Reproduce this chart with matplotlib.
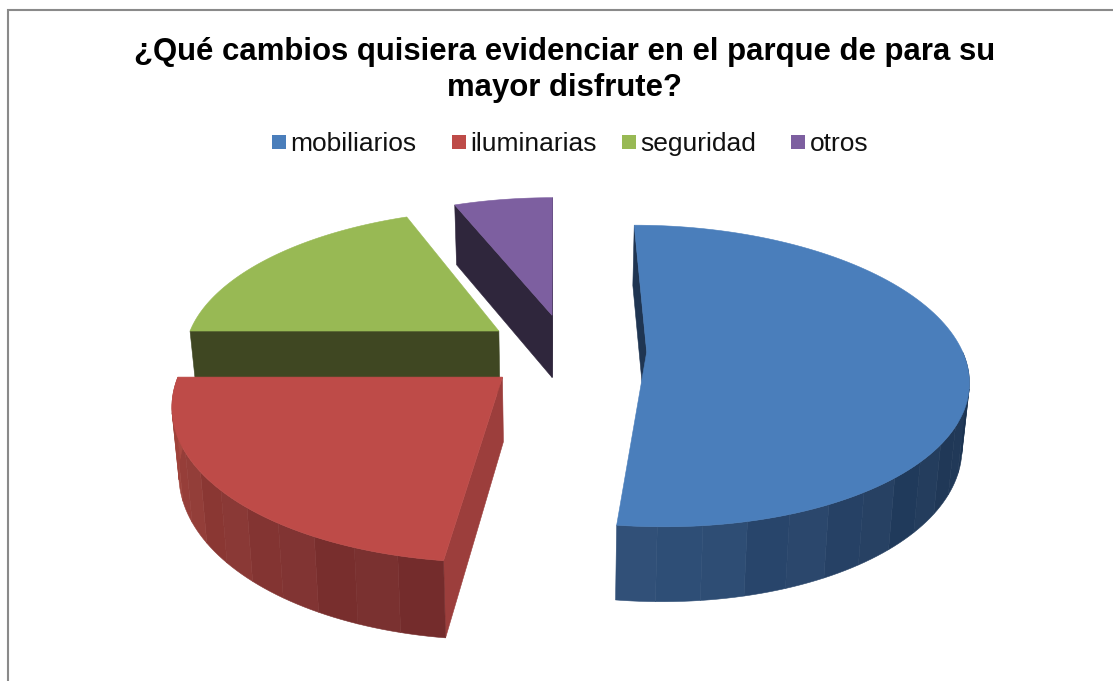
import numpy as np
import matplotlib
matplotlib.use("Agg")
import matplotlib.pyplot as plt
from matplotlib.patches import Polygon, Rectangle
from matplotlib.path import Path
from matplotlib.colors import to_rgb

title = "¿Qué cambios quisiera evidenciar en el parque de para su\nmayor disfrute?"
categories = ["mobiliarios", "iluminarias", "seguridad", "otros"]
values = [52, 23, 19, 6]

# displacement of each exploded slice, in pie radii
offset_x = [0.287, -0.165, -0.185, -0.013]
offset_y = [0.0, 0.166, -0.146, -0.26]

face_colors = ["#4a7ebb", "#be4b48", "#98b954", "#7d5fa0"]
radial_colors = ["#1f3552", "#9c3e3c", "#3f4722", "#2f263c"]
rim_light = ["#2f4f78", "#a8483f", "#5a6a30", "#3c3050"]
rim_dark = ["#1c3350", "#702a2b", "#3f4722", "#2f263c"]

CX, CY, A, B, K, D, TAPER = 556, 352, 316, 147, 0.159, 63, 0.018

plt.rcParams["font.family"] = ["Liberation Sans", "DejaVu Sans"]
fig = plt.figure(figsize=(11.13, 6.81), dpi=100, facecolor="white")
ax = fig.add_axes([0, 0, 1, 1])
ax.set_xlim(0, 1113)
ax.set_ylim(681, 0)
ax.axis("off")


def project(X, Y, depth=0.0):
    w = 1 - K * Y
    drop = np.where(w < 1, D / w, D / w ** 0.3)
    return np.column_stack([CX + A * X / w * (1 - TAPER * depth), CY + B * Y / w + depth * drop])


def disc(theta, off):
    t = np.radians(theta)
    return off[0] + np.sin(t), off[1] - np.cos(t)


def quad(pts, color, z):
    ax.add_patch(Polygon(pts, closed=True, facecolor=color, edgecolor=color, lw=0.4, zorder=z))


def draw_slice(i, start, end, z):
    off = (offset_x[i], offset_y[i])
    th = np.linspace(start, end, 120)
    X, Y = disc(th, off)
    face = project(np.concatenate([[off[0]], X]), np.concatenate([[off[1]], Y]))
    face_path = Path(np.vstack([face, face[:1]]))

    # radial walls, only when they show beyond the top face
    for ang in (start, end):
        rx, ry = disc(ang, off)
        xs = np.array([off[0], rx])
        ys = np.array([off[1], ry])
        top = project(xs, ys)
        if face_path.contains_point(top.mean(axis=0) + np.array([0, 5])):
            continue
        quad(np.vstack([top, project(xs, ys, 1.0)[::-1]]), radial_colors[i], z)

    # outer rim in bands
    lo, hi = max(start, 90), min(end, 270)
    if hi > lo:
        edges = np.arange(lo, hi + 7, 7.0)
        edges[-1] = hi
        ripple = [0.0, 0.012, -0.008, 0.01]
        c0, c1 = np.array(to_rgb(rim_dark[i])), np.array(to_rgb(rim_light[i]))
        for n in range(len(edges) - 1):
            mid = (edges[n] + edges[n + 1]) / 2
            frac = abs(mid - 180) / 90
            frac = (1 - frac) ** 1.6 if i == 0 else frac ** 1.3
            col = np.clip(c0 + (c1 - c0) * frac + ripple[n % 4], 0, 1)
            t = np.linspace(edges[n], edges[n + 1], 6)
            rx, ry = disc(t, off)
            quad(np.vstack([project(rx, ry), project(rx, ry, 1.0)[::-1]]), tuple(col), z + 0.1)

    quad(face, face_colors[i], z + 0.2)


ends = np.cumsum(values) / np.sum(values) * 360
starts = np.concatenate([[0], ends[:-1]])
for i, z in zip([3, 2, 0, 1], [2, 3, 4, 5]):
    draw_slice(i, starts[i], ends[i], z)

ax.plot([1113, 8, 8], [10, 10, 681], color="#8a8a8a", lw=1.5, zorder=1, solid_joinstyle="miter")

ax.text(564.5, 70, title, ha="center", va="center", fontsize=22.4, fontweight="bold",
        color="black", linespacing=1.235, zorder=6)

swatch_x = [272, 452, 622, 791]
for name, col, x in zip(categories, face_colors, swatch_x):
    ax.add_patch(Rectangle((x, 135), 14, 14, facecolor=col, edgecolor="none", zorder=6))
    ax.text(x + 18.5, 151, name, ha="left", va="baseline", fontsize=19, color="#111111", zorder=6)

fig.savefig("out.png", dpi=100, facecolor="white")
